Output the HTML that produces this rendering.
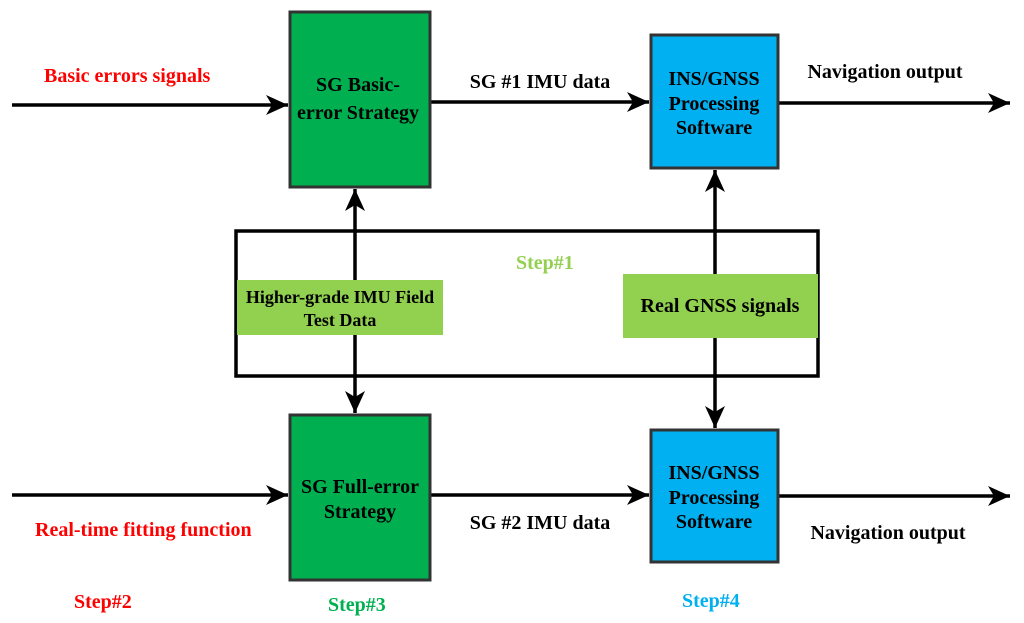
<html><head><style>body{margin:0;background:#fff}text{font-family:"Liberation Serif",serif;font-weight:bold}</style></head><body>
<svg width="1024" height="623" viewBox="0 0 1024 623" xmlns="http://www.w3.org/2000/svg">
<defs><marker id="b" markerWidth="24" markerHeight="20" refX="22" refY="10" orient="auto" markerUnits="userSpaceOnUse"><path d="M0,0 L22,10 L0,20 L6,10 Z" fill="#000"/></marker></defs>
<g stroke="#000" stroke-width="3.5" fill="none">
<rect x="236" y="231" width="582" height="145"/>
<line x1="12" y1="105" x2="288" y2="105" marker-end="url(#b)"/>
<line x1="430" y1="102" x2="649" y2="102" marker-end="url(#b)"/>
<line x1="778" y1="103" x2="1010" y2="103" marker-end="url(#b)"/>
<line x1="12" y1="495" x2="288" y2="495" marker-end="url(#b)"/>
<line x1="430" y1="495" x2="649" y2="495" marker-end="url(#b)"/>
<line x1="778" y1="496" x2="1010" y2="496" marker-end="url(#b)"/>
<line x1="355" y1="280" x2="355" y2="189" marker-end="url(#b)"/>
<line x1="355" y1="335" x2="355" y2="413" marker-end="url(#b)"/>
<line x1="715" y1="274" x2="715" y2="170" marker-end="url(#b)"/>
<line x1="715" y1="338" x2="715" y2="428" marker-end="url(#b)"/>
</g>
<rect x="290" y="12" width="140" height="175" fill="#00b050" stroke="#333" stroke-width="3"/>
<rect x="290" y="415" width="140" height="165" fill="#00b050" stroke="#333" stroke-width="3"/>
<rect x="651" y="35" width="127" height="133" fill="#00b0f0" stroke="#333" stroke-width="3"/>
<rect x="651" y="430" width="127" height="132" fill="#00b0f0" stroke="#333" stroke-width="3"/>
<rect x="237" y="280" width="206" height="55" fill="#92d050"/>
<rect x="623" y="274" width="195" height="64" fill="#92d050"/>
<g font-size="20" text-anchor="middle" fill="#000">
<text x="358" y="91">SG Basic-</text><text x="358" y="119">error Strategy</text>
<text x="360" y="493">SG Full-error</text><text x="360" y="518">Strategy</text>
<text x="714" y="85">INS/GNSS</text><text x="714" y="110">Processing</text><text x="714" y="134">Software</text>
<text x="714" y="479">INS/GNSS</text><text x="714" y="504">Processing</text><text x="714" y="528">Software</text>
<text x="340" y="303" font-size="18">Higher-grade IMU Field</text><text x="340" y="326" font-size="18">Test Data</text>
<text x="720" y="312">Real GNSS signals</text>
<text x="540" y="88">SG #1 IMU data</text>
<text x="540" y="529">SG #2 IMU data</text>
<text x="885" y="78">Navigation output</text>
<text x="888" y="539">Navigation output</text>
</g>
<g font-size="20" fill="#ff0000">
<text x="44" y="82">Basic errors signals</text>
<text x="35" y="536">Real-time fitting function</text>
<text x="74" y="608">Step#2</text>
</g>
<g font-size="20">
<text x="516" y="269" fill="#92d050">Step#1</text>
<text x="328" y="611" fill="#00b050">Step#3</text>
<text x="682" y="607" fill="#00b0f0">Step#4</text>
</g>
</svg></body></html>
